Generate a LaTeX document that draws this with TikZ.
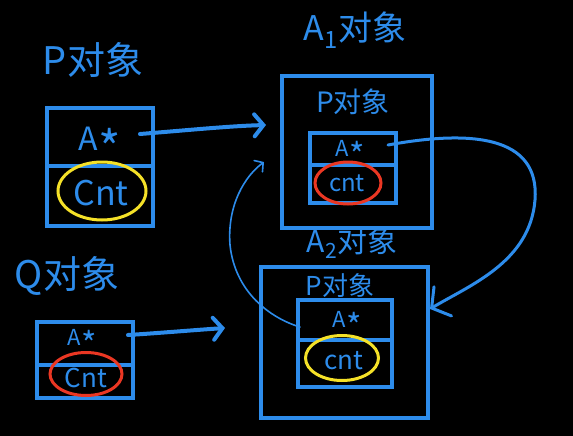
\documentclass[tikz,border=0pt]{standalone}
\usepackage{fontspec}
\newfontfamily\cjk{Noto Sans CJK SC}
\usetikzlibrary{arrows.meta,shapes.geometric}
\definecolor{penblue}{RGB}{45,140,235}
\definecolor{penyellow}{RGB}{245,225,40}
\definecolor{penred}{RGB}{235,55,35}
\newcommand\pstar{A\kern0.5pt\raisebox{-0.5em}{\scalebox{1.5}{*}}}
\begin{document}
\begin{tikzpicture}[x=1pt,y=-1pt,
  objbox/.style={draw=penblue, line width=3.5pt, rectangle, inner sep=0pt},
  divider/.style={draw=penblue, line width=3.5pt},
  lbl/.style={text=penblue, inner sep=0pt, font=\cjk\fontsize{#1}{#1}\selectfont},
  lbl/.default=30,
  ringy/.style={ellipse, draw=penyellow, line width=3pt, inner sep=0pt},
  ringr/.style={ellipse, draw=penred, line width=3pt, inner sep=0pt},
  thick arrow/.style={draw=penblue, line width=4pt, line cap=round, -{Straight Barb[length=9pt,width=22pt,line cap=round]}},
  mid arrow/.style={draw=penblue, line width=3pt, line cap=round, -{Straight Barb[length=13pt,width=34pt,line cap=round]}},
  thin arrow/.style={draw=penblue, line width=1.6pt, line cap=round, -{Straight Barb[length=6pt,width=14pt,line cap=round]}}
]
\fill[black] (0,0) rectangle (573,436);
\useasboundingbox (0,0) rectangle (573,436);

% ---------- P object (top left)
\node[lbl=38] (plabel) at (93,60) {P对象};
\node[objbox, minimum width=106pt, minimum height=118pt] (pbox) at (100,167) {};
\draw[divider] (pbox.west |- 0,166) -- (pbox.east |- 0,166);
\node[lbl=32] (pA) at (100,147) {\pstar};
\node[lbl=34] (pC) at (101,193) {Cnt};
\node[ringy, minimum width=88pt, minimum height=58pt] (pring) at (102,191) {};

% ---------- Q object (bottom left)
\node[lbl=38] (qlabel) at (67,276) {Q对象};
\node[objbox, minimum width=96pt, minimum height=76pt] (qbox) at (85,360) {};
\draw[divider] (qbox.west |- 0,365) -- (qbox.east |- 0,365);
\node[lbl=22] (qA) at (82,343) {\pstar};
\node[lbl=26] (qC) at (86,378) {Cnt};
\node[ringr, minimum width=72pt, minimum height=43pt] (qring) at (86,374) {};

% ---------- A1 object (top right)
\node[lbl=34] (a1label) at (355,30) {A\textsubscript{1}对象};
\node[objbox, minimum width=150pt, minimum height=152pt] (a1box) at (357,152) {};
\node[lbl=28] (a1plabel) at (353,102) {P对象};
\node[objbox, minimum width=86pt, minimum height=70pt] (a1in) at (353,168) {};
\draw[divider] (a1in.west |- 0,165) -- (a1in.east |- 0,165);
\node[lbl=22] (a1A) at (350,154) {\pstar};
\node[lbl=24] (a1C) at (347,183) {cnt};
\node[ringr, minimum width=66pt, minimum height=42pt] (a1ring) at (348,183) {};

% ---------- A2 object (bottom right)
\node[lbl=30] (a2label) at (352,243) {A\textsubscript{2}对象};
\node[objbox, minimum width=167pt, minimum height=151pt] (a2box) at (344.5,342.5) {};
\node[lbl=26] (a2plabel) at (340,286) {P对象};
\node[objbox, minimum width=94pt, minimum height=87pt] (a2in) at (345,343.5) {};
\draw[divider] (a2in.west |- 0,340) -- (a2in.east |- 0,340);
\node[lbl=22] (a2A) at (347,325) {\pstar};
\node[lbl=26] (a2C) at (344,361) {cnt};
\node[ringy, minimum width=73pt, minimum height=45pt] (a2ring) at (342,358) {};

% ---------- connectors
\coordinate (p1) at (140,134);
\coordinate (a1tip) at (266,125);
\draw[thick arrow] (p1) .. controls (190,130) and (230,126) .. (a1tip);

\coordinate (q1) at (128,335);
\coordinate (a2tip) at (225,328);
\draw[thick arrow] (q1) .. controls (160,333) and (195,330) .. (a2tip);

\coordinate (c1) at (388,145);
\coordinate (c2) at (430,309);
\draw[mid arrow] (c1) .. controls (470,130) and (540,135) .. (535,200)
   .. controls (530,262) and (470,285) .. (c2);

\coordinate (d1) at (300,327);
\coordinate (d2) at (264,162);
\draw[thin arrow] (d1) .. controls (270,318) and (235,292) .. (230,245)
   .. controls (227,205) and (245,176) .. (d2);
\end{tikzpicture}
\end{document}
